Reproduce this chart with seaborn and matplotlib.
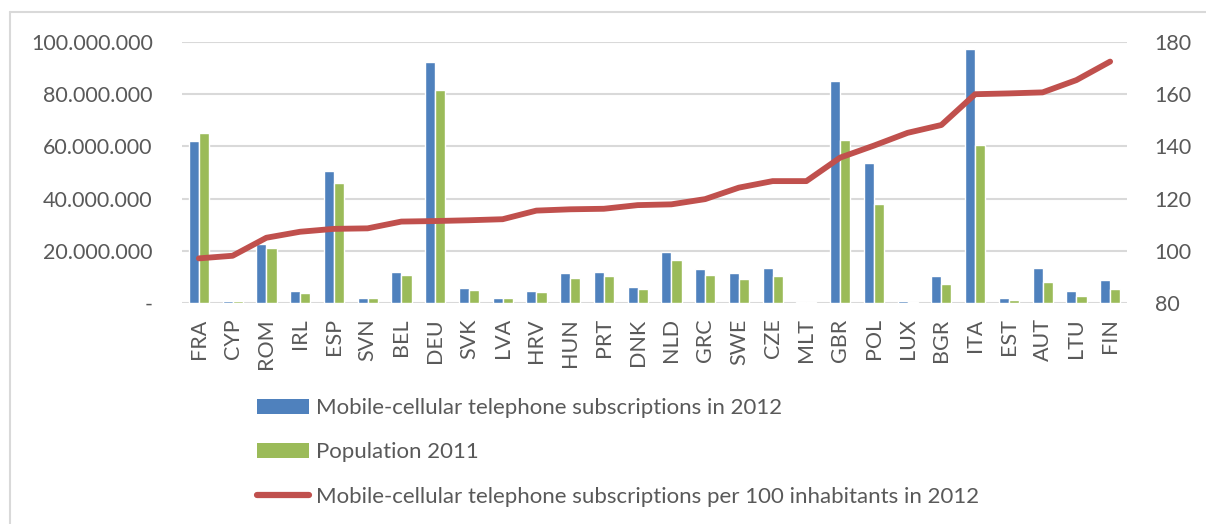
import numpy as np
import pandas as pd
import matplotlib
matplotlib.use("Agg")
import matplotlib.pyplot as plt
import matplotlib.ticker as mticker
from matplotlib.patches import Patch
from matplotlib.lines import Line2D
import seaborn as sns

countries = ["FRA", "CYP", "ROM", "IRL", "ESP", "SVN", "BEL", "DEU", "SVK", "LVA",
             "HRV", "HUN", "PRT", "DNK", "NLD", "GRC", "SWE", "CZE", "MLT", "GBR",
             "POL", "LUX", "BGR", "ITA", "EST", "AUT", "LTU", "FIN"]
subscriptions_2012 = [62.1, 0.9, 22.6, 4.5, 50.6, 2.0, 12.0, 92.5, 5.6, 2.1,
                      4.6, 11.4, 12.0, 6.1, 19.4, 13.0, 11.5, 13.4, 0.5, 84.9,
                      53.5, 0.7, 10.3, 97.4, 1.9, 13.4, 4.6, 8.9]  # millions
population_2011 = [65.3, 0.9, 21.1, 4.0, 46.1, 1.8, 10.6, 81.6, 5.0, 1.8,
                   4.1, 9.7, 10.4, 5.4, 16.5, 10.8, 9.3, 10.3, 0.4, 62.6,
                   38.1, 0.5, 7.3, 60.7, 1.3, 8.1, 2.8, 5.2]  # millions
per_100 = [97.1, 98.1, 105.0, 107.3, 108.4, 108.6, 111.2, 111.4, 111.7, 112.1,
           115.4, 115.9, 116.1, 117.5, 117.8, 119.8, 124.2, 126.7, 126.7, 135.7,
           140.3, 145.2, 148.2, 160.0, 160.3, 160.7, 165.4, 172.5]

label_subs = "Mobile-cellular telephone subscriptions in 2012"
label_pop = "Population 2011"
label_rate = "Mobile-cellular telephone subscriptions per 100 inhabitants in 2012"

BLUE = "#4F81BD"
GREEN = "#9BBB59"
RED = "#C0504D"
GRID = "#D9D9D9"
TEXT = "#595959"

sns.set_theme(style="white")
plt.rcParams["font.family"] = ["Lato", "DejaVu Sans"]
plt.rcParams["text.color"] = TEXT
plt.rcParams["xtick.color"] = TEXT
plt.rcParams["ytick.color"] = TEXT

bars = pd.DataFrame({
    "country": countries * 2,
    "value": [v * 1e6 for v in subscriptions_2012] + [v * 1e6 for v in population_2011],
    "series": [label_subs] * len(countries) + [label_pop] * len(countries),
})
line = pd.DataFrame({"country": countries, "rate": per_100})

fig = plt.figure(figsize=(12.06, 5.24), dpi=100)
ax = fig.add_axes([182 / 1206, 1 - 303 / 524, (1127 - 182) / 1206, (303 - 42) / 524])

sns.barplot(data=bars, x="country", y="value", hue="series", order=countries,
            palette=[BLUE, GREEN], width=0.6, saturation=1, ax=ax, legend=False)
ax.set_ylim(0, 100e6)
ax.yaxis.set_major_locator(mticker.MultipleLocator(20e6))

def fmt(v, pos):
    if v == 0:
        return "-"
    return f"{int(round(v)):,}".replace(",", ".")

ax.yaxis.set_major_formatter(mticker.FuncFormatter(fmt))
ax.grid(axis="y", color=GRID, linewidth=1.5)
ax.set_axisbelow(True)
for s in ax.spines.values():
    s.set_visible(False)
ax.set_xlabel("")
ax.set_ylabel("")
ax.tick_params(axis="x", labelrotation=90, labelsize=15.5, length=0, pad=11)
ax.tick_params(axis="y", labelsize=15.5, length=0, pad=21)

ax2 = ax.twinx()
sns.pointplot(data=line, x="country", y="rate", order=countries, color=RED,
              markers="", linestyles="-", ax=ax2)
for ln in ax2.lines:
    ln.set_linewidth(4.2)
    ln.set_solid_capstyle("round")
    ln.set_solid_joinstyle("round")
ax2.set_ylim(80, 180)
ax2.yaxis.set_major_locator(mticker.MultipleLocator(20))
ax2.set_ylabel("")
ax2.set_xlabel("")
for s in ax2.spines.values():
    s.set_visible(False)
ax2.tick_params(axis="y", labelsize=15.5, length=0, pad=20)
ax.set_xlim(-0.5, len(countries) - 0.5)

# chart border (top and left visible)
fig.add_artist(Line2D([10 / 1206, 10 / 1206], [0, 1 - 12 / 524], transform=fig.transFigure,
                      color=GRID, linewidth=1.5))
fig.add_artist(Line2D([10 / 1206, 1], [1 - 12 / 524, 1 - 12 / 524], transform=fig.transFigure,
                      color=GRID, linewidth=1.5))

handles = [Patch(facecolor=BLUE, edgecolor="none"),
           Patch(facecolor=GREEN, edgecolor="none"),
           Line2D([0], [0], color=RED, linewidth=4.5, solid_capstyle="round")]
fig.legend(handles, [label_subs, label_pop, label_rate], loc="upper left",
           bbox_to_anchor=(257 / 1206, 1 - 398 / 524), frameon=False, fontsize=16,
           handlelength=2.35, handleheight=0.64, handletextpad=0.3, labelspacing=1.1,
           borderpad=0, borderaxespad=0)

fig.savefig("out.png", dpi=100)
